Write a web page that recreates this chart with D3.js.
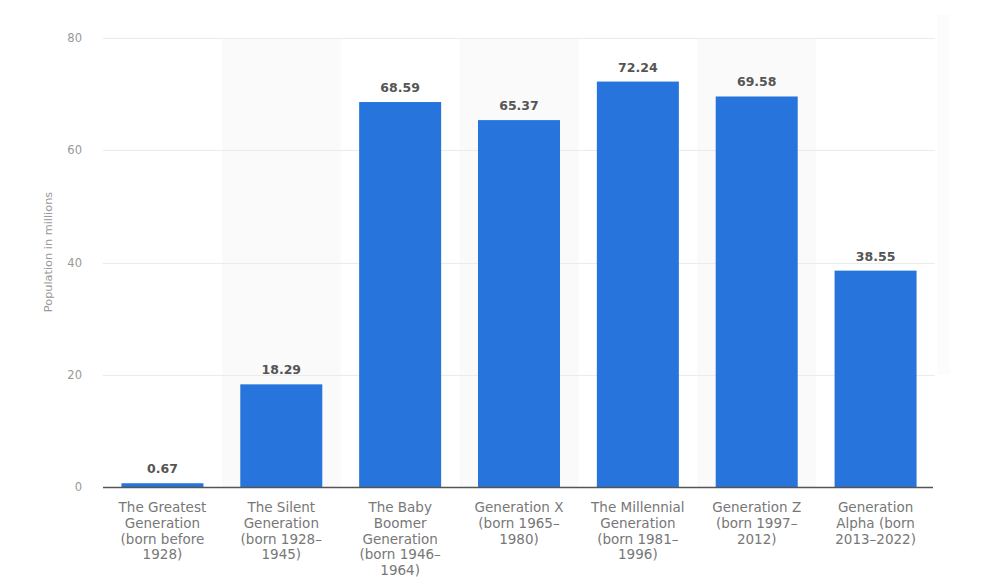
<!DOCTYPE html>
<html>
<head>
<meta charset="utf-8">
<script src="https://cdn.jsdelivr.net/npm/d3@7/dist/d3.min.js"></script>
<style>
  html, body { margin: 0; padding: 0; background: #fff; }
  svg { display: block; }
</style>
</head>
<body>
<svg id="chart" width="990" height="580"></svg>
<script>
const categories = [
  "The Greatest\nGeneration\n(born before\n1928)",
  "The Silent\nGeneration\n(born 1928–\n1945)",
  "The Baby\nBoomer\nGeneration\n(born 1946–\n1964)",
  "Generation X\n(born 1965–\n1980)",
  "The Millennial\nGeneration\n(born 1981–\n1996)",
  "Generation Z\n(born 1997–\n2012)",
  "Generation\nAlpha (born\n2013–2022)"
];
const values = [0.67, 18.29, 68.59, 65.37, 72.24, 69.58, 38.55];
const yTicks = [0, 20, 40, 60, 80];
const yTitle = "Population in millions";

const svg = d3.select("#chart");
const margin = {left: 103, right: 55, top: 38, bottom: 93};
const W = 990, H = 580;
const x0 = margin.left, x1 = W - margin.right;
const y0 = H - margin.bottom, y1 = margin.top;

const x = d3.scaleBand().domain(d3.range(categories.length)).range([x0, x1])
  .paddingInner(0.31).paddingOuter(0.155);
const xBand = d3.scaleBand().domain(d3.range(categories.length)).range([x0, x1]).padding(0);
const y = d3.scaleLinear().domain([0, 80]).range([y0, y1]);

const font = "'DejaVu Sans', Verdana, sans-serif";

// faint panel at the far right
svg.append("rect").attr("x", 937).attr("y", 15).attr("width", 13).attr("height", 360)
  .attr("fill", "#fcfcfc");

// alternating shaded columns
svg.append("g").selectAll("rect")
  .data(d3.range(categories.length).filter(i => i % 2 === 1))
  .join("rect")
  .attr("x", i => xBand(i))
  .attr("width", xBand.bandwidth())
  .attr("y", y(80))
  .attr("height", y(0) - y(80))
  .attr("fill", "#fafafa");

// gridlines
svg.append("g").selectAll("line")
  .data(yTicks.filter(t => t > 0))
  .join("line")
  .attr("x1", x0).attr("x2", x1)
  .attr("y1", d => Math.round(y(d)) + 0.5).attr("y2", d => Math.round(y(d)) + 0.5)
  .attr("stroke", "#ebebeb").attr("stroke-width", 1);

// y axis labels via d3 axis
const yAxis = svg.append("g")
  .attr("transform", `translate(${x0 - 21},0)`)
  .call(d3.axisLeft(y).tickValues(yTicks).tickSize(0).tickPadding(0));
yAxis.select(".domain").remove();
yAxis.selectAll("text")
  .attr("fill", "#999").attr("font-size", "11.5px").attr("font-family", font);

// y title
svg.append("text")
  .attr("transform", `translate(52,252) rotate(-90)`)
  .attr("text-anchor", "middle")
  .attr("font-size", "11.3px").attr("font-family", font).attr("fill", "#999")
  .text(yTitle);

// bars
svg.append("g").selectAll("rect")
  .data(values)
  .join("rect")
  .attr("x", (d, i) => x(i))
  .attr("width", x.bandwidth())
  .attr("y", d => y(d))
  .attr("height", d => y(0) - y(d))
  .attr("fill", "#2775dc");

// value labels
svg.append("g").selectAll("text")
  .data(values)
  .join("text")
  .attr("x", (d, i) => x(i) + x.bandwidth() / 2)
  .attr("y", d => y(d) - 10)
  .attr("text-anchor", "middle")
  .attr("font-size", "12.5px").attr("font-weight", "bold")
  .attr("font-family", font).attr("fill", "#555")
  .text(d => d.toFixed(2));

// baseline
svg.append("line")
  .attr("x1", x0).attr("x2", x1 - 2)
  .attr("y1", y(0) + 0.5).attr("y2", y(0) + 0.5)
  .attr("stroke", "#555").attr("stroke-width", 1.3);

// x labels
const xl = svg.append("g").selectAll("text")
  .data(categories)
  .join("text")
  .attr("text-anchor", "middle")
  .attr("font-size", "13.5px").attr("font-family", font).attr("fill", "#777");
xl.each(function(d, i) {
  const t = d3.select(this);
  d.split("\n").forEach((line, k) => {
    t.append("tspan")
      .attr("x", x(i) + x.bandwidth() / 2)
      .attr("y", y(0) + 25 + k * 15.8)
      .text(line);
  });
});
</script>
</body>
</html>
